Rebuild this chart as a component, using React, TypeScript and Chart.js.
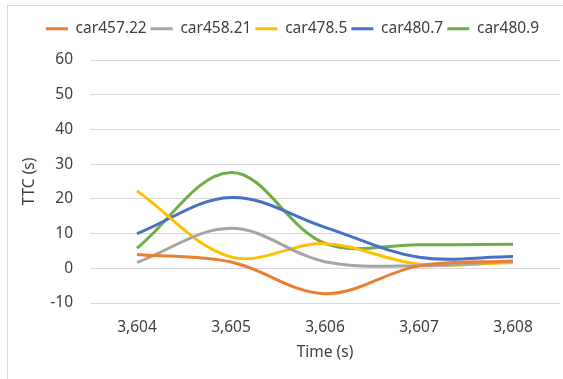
import React, { useEffect, useRef } from "react";
import { Chart, registerables } from "chart.js";

Chart.register(...registerables);

const categories = ["3,604", "3,605", "3,606", "3,607", "3,608"];
const car457_22 = [4, 1.8, -7.3, 0.7, 2.1];
const car458_21 = [1.7, 11.5, 1.9, 0.7, 2];
const car478_5 = [22.3, 3.3, 7.1, 1.2, 1.7];
const car480_7 = [10, 20.4, 11.8, 3.2, 3.4];
const car480_9 = [5.8, 27.6, 7.2, 6.8, 6.9];
const seriesNames = ["car457.22", "car458.21", "car478.5", "car480.7", "car480.9"];
const seriesColors = ["#ED7D31", "#A5A5A5", "#FFC000", "#4472C4", "#70AD47"];
const yTicks = { min: -10, max: 60, step: 10 };

const FONT = "'Noto Sans', sans-serif";
const TEXT = "#404040";

const legendMargin = {
  id: "legendMargin",
  beforeInit(chart: any) {
    const orig = chart.legend.fit;
    chart.legend.fit = function fit() {
      orig.call(this);
      this.height = 43;
    };
  },
};

export default function App() {
  const ref = useRef<HTMLCanvasElement | null>(null);
  useEffect(() => {
    if (!ref.current) return;
    const all = [car457_22, car458_21, car478_5, car480_7, car480_9];
    const chart = new Chart(ref.current, {
      type: "line",
      data: {
        labels: categories,
        datasets: all.map((d, i) => ({
          label: seriesNames[i],
          data: d,
          borderColor: seriesColors[i],
          backgroundColor: seriesColors[i],
          borderWidth: 3,
          pointRadius: 0,
          pointHoverRadius: 0,
          tension: 0.36,
          fill: false,
        })),
      },
      options: {
        responsive: false,
        animation: false,
        layout: { padding: { left: 25, right: 3, top: 17, bottom: 13 } },
        plugins: {
          tooltip: { enabled: false },
          legend: {
            position: "top",
            labels: {
              boxWidth: 22,
              boxHeight: 3,
              padding: 4,
              color: TEXT,
              font: { family: FONT, size: 15.5 },
              generateLabels(chart: any) {
                const items = Chart.defaults.plugins.legend.labels.generateLabels(chart);
                return items.map((it: any) => ({ ...it, lineWidth: 0, fillStyle: it.strokeStyle }));
              },
            },
          },
        },
        scales: {
          x: {
            type: "category",
            offset: true,
            grid: { display: false, drawTicks: false },
            border: { display: false },
            ticks: { color: TEXT, font: { family: FONT, size: 15.5 }, padding: 15, maxRotation: 0 },
            title: {
              display: true,
              text: "Time (s)",
              color: TEXT,
              font: { family: FONT, size: 15.5 },
              padding: { top: 7, bottom: 4 },
            },
            afterFit(scale: any) {
              scale.height = 63;
            },
          },
          y: {
            min: yTicks.min,
            max: yTicks.max,
            grid: { color: "#d9d9d9", lineWidth: 1, drawTicks: false },
            border: { display: false },
            ticks: { stepSize: yTicks.step, color: TEXT, font: { family: FONT, size: 15.5 }, padding: 17 },
            title: {
              display: true,
              text: "TTC (s)",
              color: TEXT,
              font: { family: FONT, size: 15.5, lineHeight: 1 },
              padding: { top: -3.5, bottom: 0 },
            },
            afterFit(scale: any) {
              scale.width = 65;
            },
          },
        },
      },
      plugins: [legendMargin],
    } as any);
    return () => chart.destroy();
  }, []);
  return (
    <div style={{ position: "fixed", left: 0, top: 0, width: 563, height: 379, overflow: "hidden", background: "#fff" }}>
      <div
        style={{
          position: "absolute",
          left: 7,
          top: 5,
          width: 640,
          height: 440,
          border: "1px solid #d9d9d9",
          boxSizing: "border-box",
        }}
      />
      <canvas ref={ref} width={563} height={379} style={{ position: "absolute", left: 0, top: 0 }} />
    </div>
  );
}
